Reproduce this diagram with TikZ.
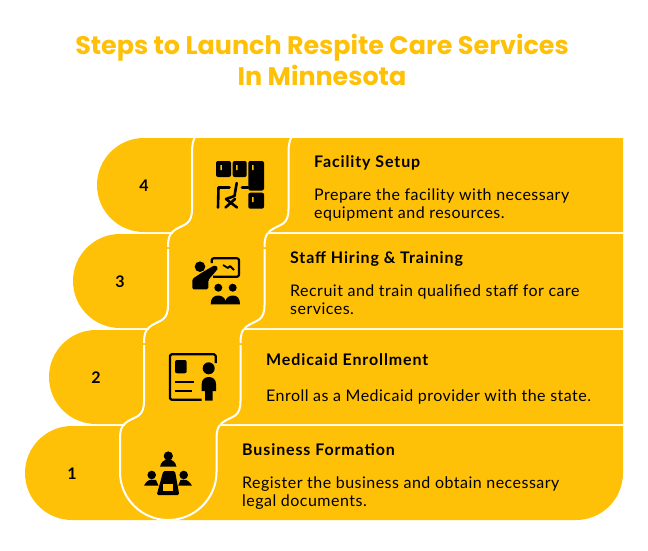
\documentclass[tikz,border=0pt]{standalone}
\usepackage{fontspec}
\setmainfont{Lato}
\newfontfamily\titlefont{Poppins}
\newfontfamily\headfont[LetterSpace=5.5]{Lato}
\newfontfamily\descfont[LetterSpace=3]{Lato}
\definecolor{stepyellow}{HTML}{FFC107}
\tikzset{
  rowfill/.style={fill=stepyellow},
  sline/.style={draw=white,line width=2pt},
  titletext/.style={font=\titlefont\bfseries\fontsize{25.4}{30}\selectfont,text=stepyellow,anchor=base},
  numtext/.style={font=\bfseries\fontsize{16}{18}\selectfont,anchor=base},
  headtext/.style={font=\headfont\bfseries\fontsize{16}{18}\selectfont,anchor=base west,inner sep=0pt},
  desctext/.style={font=\descfont\fontsize{16}{18}\selectfont,anchor=base west,align=left,inner sep=0pt},
  iconline/.style={draw=black,line width=2.6pt,line cap=round,line join=round},
  iconthin/.style={draw=black,line width=2.2pt,line join=round}
}
\begin{document}
\begin{tikzpicture}[x=1pt,y=-1pt]
      \useasboundingbox (0,0) rectangle (648,551);
      % title
      \node[titletext] (title1) at (322,55) {Steps to Launch Respite Care Services};
      \node[titletext] (title2) at (322,85) {In Minnesota};
      % rows
      \fill[rowfill] (623,138) [rounded corners=47pt] -- (97,138) -- (97,232) [sharp corners] -- (623,232) -- cycle;
      \fill[rowfill] (623,234) [rounded corners=47pt] -- (73,234) -- (73,328) [sharp corners] -- (623,328) -- cycle;
      \fill[rowfill] (623,330) [rounded corners=47pt] -- (49,330) -- (49,424) [sharp corners] -- (623,424) -- cycle;
      \fill[rowfill] (623,426) [rounded corners=47pt] -- (623,520) -- (25,520) -- (25,426) [sharp corners] -- cycle;
      % columns
      \fill[rowfill] (173,230) rectangle (269,236);
      \fill[rowfill] (149,326) rectangle (245,332);
      \fill[rowfill] (125,422) rectangle (221,428);
      \foreach \d in {0,96.5} {
        \draw[sline] (195+\d,137) .. controls (193+\d,141) and (192+\d,145) .. (192+\d,153);
        \foreach \x/\y in {192/233,168/329,144/425} {
          \draw[sline] (\x+\d,\y-80) -- (\x+\d,\y-24) .. controls (\x+\d,\y-10) and (\x+\d-6,\y-9) .. (\x+\d-14,\y-5)
            .. controls (\x+\d-21,\y-1) and (\x+\d-24,\y+2) .. (\x+\d-24,\y+14);
        }
      }
      \draw[sline] (120,439) -- (120,472) .. controls (120,498.5) and (141.7,520) .. (168.25,520)
        .. controls (194.8,520) and (216.5,498.5) .. (216.5,472) -- (216.5,439);
      % icon 4
      \fill[rounded corners=2pt] (216,161) rectangle (231,177);
      \fill[rounded corners=2pt] (232.7,161) rectangle (246.7,177);
      \fill[rounded corners=2pt] (248.3,161) rectangle (264,190.5);
      \fill[rounded corners=2pt] (248.3,192.7) rectangle (264,208.7);
      \fill[stepyellow] (220.3,165) rectangle (221.8,170) (236,165) rectangle (237.5,170)
        (252,165) rectangle (253.5,170) (252,197) rectangle (253.5,202);
      \draw[iconline] (242,187.5) -- (248,187.5);
      \draw[iconline] (229.5,187.5) -- (218.5,187.5) -- (218,207.5);
      \draw[iconline] (236.7,183) -- (234.5,196) -- (226,199);
      \draw[iconline] (226,199) -- (237,207.5);
      \draw[iconline] (235,199) -- (225.5,207.5);
      % icon 3
      \fill (200,266.7) circle (5.3);
      \fill[rounded corners=1.5pt] (192.3,289.3) -- (192.3,279) -- (201.7,272.7) -- (215,265) -- (218.3,268.3) -- (208.3,280) -- (208.3,289.3) -- cycle;
      \draw[iconthin,rounded corners=2pt] (211.7,263) -- (211.7,258.3) -- (239,258.3) -- (239,276.7) -- (213,276.7);
      \draw[draw=black,line width=1.8pt,line join=round] (223,265) -- (228,268) -- (230,266) -- (234,270);
      \fill (218.3,287.7) circle (4);
      \fill (232.7,287.7) circle (4);
      \fill (210.7,304.3) .. controls (210.7,298) and (214,295.5) .. (218,295.5) .. controls (222,295.5) and (225,298) .. (225.5,301)
        .. controls (226,298) and (229,295.5) .. (233,295.5) .. controls (237,295.5) and (240,298) .. (240,304.3) -- cycle;
      % icon 2
      \draw[iconthin,rounded corners=1.5pt] (215.7,363) -- (215.7,354.3) -- (170,354.3) -- (170,399.7) -- (201.7,399.7);
      \fill[rounded corners=2pt] (175,360) rectangle (186.7,373.3);
      \draw[iconthin] (175,381.7) -- (194,381.7) (175,390.7) -- (191.7,390.7);
      \fill (208.7,368.3) circle (6);
      \fill (201.7,391) -- (201.7,384) .. controls (201.7,379.5) and (205,377) .. (208.9,377) .. controls (212.8,377) and (216,379.5) .. (216,384)
        -- (216,391) -- (212.7,391) -- (212.7,400.7) -- (205,400.7) -- (205,391) -- cycle;
      % icon 1
      \fill (168.3,456) circle (4.6);
      \fill (160,466.7) .. controls (161,462) and (164,459.5) .. (168.3,459.5) .. controls (172.5,459.5) and (175.5,462) .. (176.5,466.7) -- cycle;
      \fill[rounded corners=1.5pt] (163.3,471) -- (175,471) -- (179.3,495) -- (156.7,495) -- cycle;
      \fill[stepyellow] (162.7,484) rectangle (172.7,490.7);
      \fill (151.7,475) circle (4.3);
      \fill (144,485.7) .. controls (146,482) and (148,479.7) .. (151.7,479.7) -- (156,480) -- (158.5,485.7) -- cycle;
      \fill (183.7,475) circle (4.3);
      \fill (192,485.7) .. controls (190,482) and (187.5,479.7) .. (183.7,479.7) -- (180.5,480) -- (178.2,485.7) -- cycle;
      % texts
      \node[numtext] (num4) at (144,191) {4};
      \node[numtext] (num3) at (120,287) {3};
      \node[numtext] (num2) at (96,383) {2};
      \node[numtext] (num1) at (72,479) {1};
      \node[headtext] (head4) at (314,167) {Facility Setup};
      \node[desctext] (desc4) at (314,218) {Prepare the facility with necessary\\equipment and resources.};
      \node[headtext] (head3) at (290,263) {Staff Hiring \& Training};
      \node[desctext] (desc3) at (290,314) {Recruit and train qualified staff for care\\services.};
      \node[headtext] (head2) at (266,365) {Medicaid Enrollment};
      \node[desctext] (desc2) at (266,401) {Enroll as a Medicaid provider with the state.};
      \node[headtext] (head1) at (242,455) {Business Formation};
      \node[desctext] (desc1) at (242,506) {Register the business and obtain necessary\\legal documents.};
    \end{tikzpicture}
\end{document}
